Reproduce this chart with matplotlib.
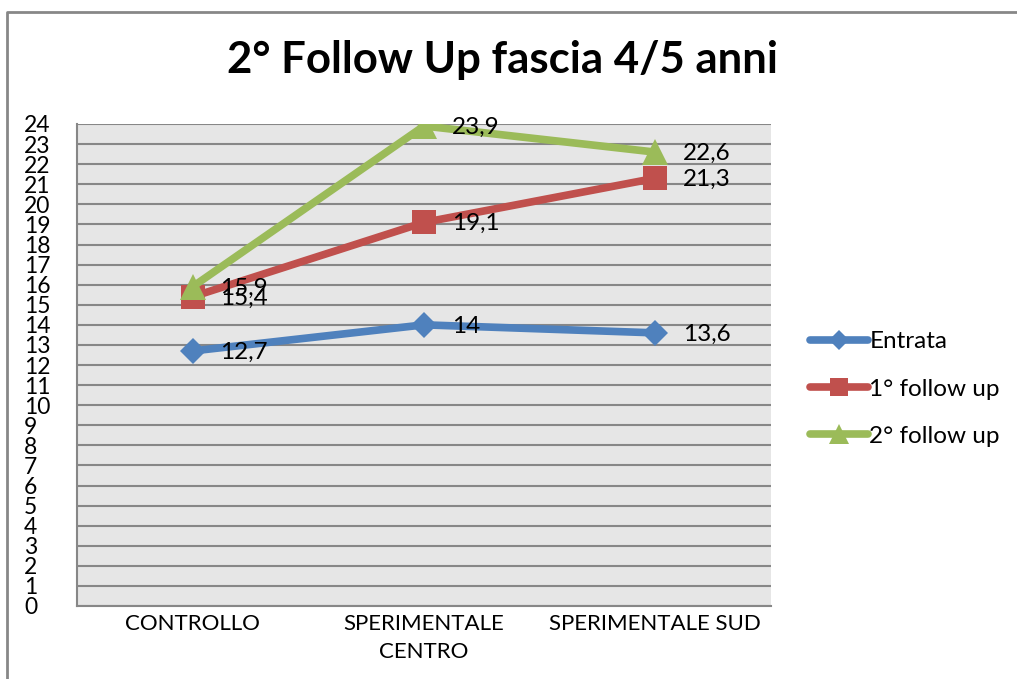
import numpy as np
import matplotlib
matplotlib.use("Agg")
import matplotlib.pyplot as plt
from matplotlib.lines import Line2D

plt.rcParams['font.family'] = ['Lato', 'DejaVu Sans']

categories = ['CONTROLLO', 'SPERIMENTALE\nCENTRO', 'SPERIMENTALE SUD']
entrata = [12.7, 14.0, 13.6]
follow1 = [15.4, 19.1, 21.3]
follow2 = [15.9, 23.9, 22.6]
series = ['Entrata', '1° follow up', '2° follow up']
yticks = list(range(0, 25))

colors = ['#4F81BD', '#C0504D', '#9BBB59']
markers = ['D', 's', '^']
msizes = [13, 17, 19]

fig = plt.figure(figsize=(10.17, 6.79), dpi=100)
ax = fig.add_axes([77/1017, 1 - 606/679, (771-77)/1017, (606-124)/679])
ax.set_facecolor('#E6E6E6')

x = np.arange(len(categories))
for vals, name, c, m, ms in zip([entrata, follow1, follow2], series, colors, markers, msizes):
    ax.plot(x, vals, color=c, lw=5.5, marker=m, markersize=ms, markeredgewidth=0,
            label=name, solid_capstyle='round', zorder=3)
    for xi, v in zip(x, vals):
        lab = ('%g' % v).replace('.', ',')
        ax.annotate(lab, (xi, v), xytext=(20, -1), textcoords='offset points',
                    ha='left', va='center', fontsize=17.5, zorder=4)

ax.set_xlim(-0.5, 2.5)
ax.set_ylim(0, 24)
ax.set_yticks(yticks)
ax.set_yticklabels([str(t) for t in yticks], ha='left')
ax.tick_params(axis='y', length=0, pad=38, labelsize=16.5)
ax.set_xticks(x)
ax.set_xticklabels(categories, linespacing=1.5)
ax.tick_params(axis='x', length=0, pad=6, labelsize=16)
ax.grid(axis='y', color='#878787', lw=1.5, zorder=1)
ax.set_axisbelow(True)
for s in ['top', 'right']:
    ax.spines[s].set_visible(False)
for s in ['left', 'bottom']:
    ax.spines[s].set_color('#878787')
    ax.spines[s].set_linewidth(1.5)

handles = [Line2D([0], [0], color=c, lw=5.5, marker=m, markersize=ms * 0.75,
                  markeredgewidth=0, solid_capstyle='round')
           for c, m, ms in zip(colors, markers, msizes)]
fig.legend(handles, series, loc='center left', bbox_to_anchor=(788/1017, 1 - 389/679),
           frameon=False, fontsize=17.5, handlelength=2.4, handletextpad=0.05,
           labelspacing=1.07)

fig.text(0.494, 1 - 60/679, '2° Follow Up fascia 4/5 anni', ha='center', va='center',
         fontsize=31.5, fontweight='bold')

# outer chart border (cropped on right and bottom)
fig.add_artist(Line2D([7/1017, 7/1017, 1.0], [0.0, 1 - 12/679, 1 - 12/679],
                      color='#878787', lw=2, transform=fig.transFigure))

fig.savefig('out.png', dpi=100, facecolor='white')
